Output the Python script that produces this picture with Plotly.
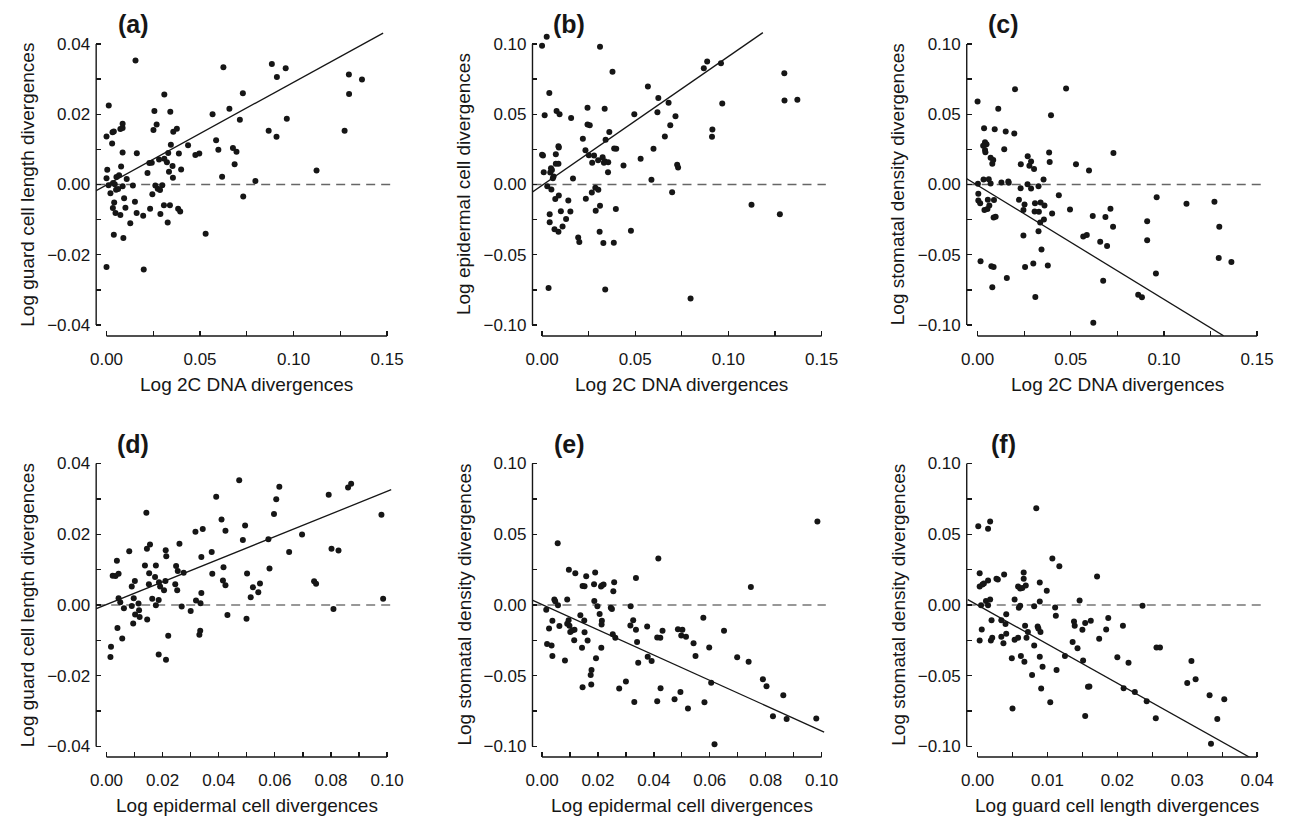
import plotly.graph_objects as go

W, H = 1297, 820

# ---------------- data ----------------
# (a) guard cell length vs 2C DNA
a_x = [0.0155, 0.0625, 0.0884, 0.0958, 0.0911, 0.1296, 0.1366, 0.1297, 0.1273, 0.0309,
       0.0729, 0.0012, 0.0256, 0.0341, 0.0657, 0.0567, 0.0268, 0.0713, 0.0964, 0.0000,
       0.0032, 0.0039, 0.0074, 0.0086, 0.0086, 0.0251, 0.0357, 0.0376, 0.0867, 0.0909,
       0.0030, 0.0586, 0.0344, 0.0436, 0.0598, 0.0676, 0.0695, 0.0086, 0.0162, 0.0330,
       0.0387, 0.0475, 0.0496, 0.0281, 0.0309, 0.0323, 0.0229, 0.0242, 0.0685, 0.0353,
       0.0078, 0.0004, 0.0334, 0.0399, 0.1123, 0.0219, 0.0000, 0.0053, 0.0067, 0.0108,
       0.0355, 0.0618, 0.0796, 0.0011, 0.0035, 0.0044, 0.0086, 0.0141, 0.0261, 0.0298,
       0.0021, 0.0051, 0.0062, 0.0274, 0.0286, 0.0731, 0.0245, 0.0094, 0.0041, 0.0034,
       0.0101, 0.0152, 0.0307, 0.0339, 0.0383, 0.0394, 0.0233, 0.0048, 0.0074, 0.0161,
       0.0196, 0.0288, 0.0127, 0.0327, 0.0039, 0.0090, 0.0530, 0.0000, 0.0199]
a_y = [0.0353, 0.0334, 0.0343, 0.0331, 0.0306, 0.0313, 0.0299, 0.0258, 0.0153, 0.0256,
       0.0260, 0.0225, 0.0209, 0.0207, 0.0216, 0.0200, 0.0171, 0.0184, 0.0187, 0.0137,
       0.0149, 0.0151, 0.0158, 0.0173, 0.0161, 0.0155, 0.0150, 0.0159, 0.0153, 0.0136,
       0.0117, 0.0126, 0.0113, 0.0112, 0.0099, 0.0104, 0.0093, 0.0091, 0.0089, 0.0090,
       0.0088, 0.0084, 0.0088, 0.0071, 0.0073, 0.0063, 0.0061, 0.0062, 0.0058, 0.0053,
       0.0051, 0.0042, 0.0036, 0.0043, 0.0040, 0.0033, 0.0018, 0.0021, 0.0026, 0.0016,
       0.0019, 0.0022, 0.0010, -0.0002, 0.0004, 0.0001, -0.0005, -0.0003, -0.0003, -0.0002,
       -0.0025, -0.0015, -0.0013, -0.0012, -0.0016, -0.0034, -0.0028, -0.0039, -0.0051, -0.0067,
       -0.0066, -0.0049, -0.0059, -0.0059, -0.0069, -0.0077, -0.0069, -0.0081, -0.0087, -0.0081,
       -0.0089, -0.0084, -0.0110, -0.0108, -0.0143, -0.0152, -0.0140, -0.0235, -0.0242]
a_fit_x = [-0.0058, 0.1479]
a_fit_y = [-0.0018, 0.0431]

# (b) epidermal cell vs 2C DNA
b_x = [0.0000, 0.0025, 0.0311, 0.0378, 0.0039, 0.0568, 0.0014, 0.0078, 0.0094, 0.0156,
       0.0244, 0.0244, 0.0256, 0.0336, 0.0495, 0.0624, 0.0619, 0.0679, 0.0716, 0.0688,
       0.0868, 0.0886, 0.0960, 0.0967, 0.0914, 0.0912, 0.1300, 0.1301, 0.1370, 0.0219,
       0.0361, 0.0341, 0.0659, 0.0598, 0.0387, 0.0398, 0.0233, 0.0088, 0.0090, 0.0000,
       0.0005, 0.0074, 0.0251, 0.0279, 0.0301, 0.0325, 0.0336, 0.0355, 0.0332, 0.0269,
       0.0529, 0.0725, 0.0730, 0.0437, 0.0074, 0.0088, 0.0009, 0.0354, 0.0048, 0.0053,
       0.0044, 0.0062, 0.0058, 0.0166, 0.0587, 0.0028, 0.0050, 0.0286, 0.0302, 0.0267,
       0.0698, 0.0090, 0.0071, 0.0141, 0.0235, 0.1124, 0.0311, 0.0396, 0.0101, 0.0152,
       0.0288, 0.0041, 0.1276, 0.0129, 0.0041, 0.0067, 0.0110, 0.0088, 0.0309, 0.0477,
       0.0194, 0.0200, 0.0329, 0.0385, 0.0035, 0.0339, 0.0797]
b_y = [0.0988, 0.1052, 0.0981, 0.0803, 0.0652, 0.0697, 0.0493, 0.0524, 0.0500, 0.0474,
       0.0547, 0.0427, 0.0422, 0.0540, 0.0500, 0.0616, 0.0514, 0.0581, 0.0486, 0.0422,
       0.0827, 0.0875, 0.0863, 0.0576, 0.0391, 0.0339, 0.0792, 0.0597, 0.0604, 0.0325,
       0.0374, 0.0318, 0.0341, 0.0254, 0.0256, 0.0254, 0.0244, 0.0273, 0.0263, 0.0211,
       0.0206, 0.0216, 0.0209, 0.0206, 0.0173, 0.0194, 0.0166, 0.0159, 0.0154, 0.0154,
       0.0184, 0.0140, 0.0121, 0.0135, 0.0147, 0.0147, 0.0088, 0.0088, 0.0116, 0.0104,
       0.0085, 0.0057, 0.0045, 0.0043, 0.0033, -0.0012, -0.0036, -0.0024, -0.0038, -0.0057,
       -0.0055, -0.0078, -0.0104, -0.0114, -0.0102, -0.0145, -0.0152, -0.0175, -0.0190, -0.0192,
       -0.0187, -0.0211, -0.0211, -0.0246, -0.0268, -0.0318, -0.0299, -0.0337, -0.0337, -0.0329,
       -0.0377, -0.0410, -0.0417, -0.0415, -0.0737, -0.0747, -0.0812]
b_fit_x = [-0.0053, 0.1185]
b_fit_y = [-0.0055, 0.1081]

# (c) stomatal density vs 2C DNA
c_x = [0.0000, 0.0201, 0.0475, 0.0111, 0.0394, 0.0035, 0.0092, 0.0151, 0.0197, 0.0040,
       0.0048, 0.0030, 0.0040, 0.0042, 0.0143, 0.0384, 0.0387, 0.0729, 0.0070, 0.0084,
       0.0079, 0.0232, 0.0269, 0.0287, 0.0278, 0.0303, 0.0528, 0.0598, 0.0002, 0.0032,
       0.0060, 0.0070, 0.0128, 0.0165, 0.0167, 0.0354, 0.0268, 0.0287, 0.0327, 0.0231,
       0.0004, 0.0004, 0.0014, 0.0055, 0.0088, 0.0222, 0.0436, 0.0308, 0.0338, 0.0359,
       0.0252, 0.0063, 0.0037, 0.0053, 0.0306, 0.0329, 0.0246, 0.0400, 0.0496, 0.0618,
       0.0686, 0.0713, 0.0961, 0.1121, 0.1271, 0.0086, 0.0097, 0.0356, 0.0336, 0.1297,
       0.0727, 0.0910, 0.0327, 0.0246, 0.0567, 0.0586, 0.0658, 0.0695, 0.0910, 0.0343,
       0.1294, 0.1362, 0.0016, 0.0074, 0.0086, 0.0255, 0.0299, 0.0377, 0.0157, 0.0674,
       0.0957, 0.0079, 0.0862, 0.0882, 0.0310, 0.0621]
c_y = [0.0590, 0.0678, 0.0683, 0.0540, 0.0493, 0.0401, 0.0393, 0.0377, 0.0363, 0.0301,
       0.0287, 0.0275, 0.0246, 0.0230, 0.0251, 0.0228, 0.0161, 0.0225, 0.0190, 0.0175,
       0.0147, 0.0145, 0.0201, 0.0164, 0.0133, 0.0111, 0.0145, 0.0100, 0.0005, 0.0036,
       0.0038, 0.0007, 0.0014, 0.0021, 0.0012, 0.0036, 0.0002, -0.0028, -0.0012, -0.0026,
       -0.0066, -0.0114, -0.0133, -0.0109, -0.0111, -0.0109, -0.0076, -0.0133, -0.0128, -0.0149,
       -0.0142, -0.0149, -0.0182, -0.0175, -0.0192, -0.0194, -0.0182, -0.0206, -0.0178, -0.0225,
       -0.0232, -0.0173, -0.0090, -0.0137, -0.0123, -0.0235, -0.0230, -0.0249, -0.0270, -0.0301,
       -0.0301, -0.0261, -0.0332, -0.0363, -0.0370, -0.0360, -0.0408, -0.0438, -0.0396, -0.0462,
       -0.0524, -0.0552, -0.0547, -0.0581, -0.0588, -0.0588, -0.0562, -0.0576, -0.0666, -0.0685,
       -0.0633, -0.0732, -0.0784, -0.0803, -0.0801, -0.0984]
c_fit_x = [-0.0062, 0.1320]
c_fit_y = [0.0045, -0.1077]

# (d) guard cell length vs epidermal cell
d_x = [0.0473, 0.0391, 0.0616, 0.0605, 0.0597, 0.0792, 0.0861, 0.0872, 0.0980, 0.0142,
       0.0317, 0.0343, 0.0410, 0.0424, 0.0494, 0.0486, 0.0577, 0.0697, 0.0651, 0.0802,
       0.0827, 0.0081, 0.0260, 0.0155, 0.0144, 0.0211, 0.0213, 0.0375, 0.0338, 0.0037,
       0.0137, 0.0176, 0.0248, 0.0417, 0.0581, 0.0022, 0.0032, 0.0043, 0.0152, 0.0254,
       0.0275, 0.0377, 0.0501, 0.0101, 0.0173, 0.0090, 0.0151, 0.0187, 0.0210, 0.0245,
       0.0415, 0.0424, 0.0740, 0.0747, 0.0547, 0.0191, 0.0205, 0.0252, 0.0338, 0.0522,
       0.0541, 0.0097, 0.0163, 0.0186, 0.0319, 0.0514, 0.0043, 0.0049, 0.0062, 0.0090,
       0.0114, 0.0176, 0.0268, 0.0335, 0.0986, 0.0809, 0.0116, 0.0300, 0.0102, 0.0118,
       0.0431, 0.0095, 0.0145, 0.0499, 0.0039, 0.0056, 0.0220, 0.0334, 0.0331, 0.0016,
       0.0014, 0.0186, 0.0212]
d_y = [0.0353, 0.0306, 0.0334, 0.0299, 0.0257, 0.0312, 0.0332, 0.0343, 0.0255, 0.0261,
       0.0207, 0.0215, 0.0242, 0.0210, 0.0225, 0.0184, 0.0186, 0.0199, 0.0150, 0.0159,
       0.0154, 0.0152, 0.0173, 0.0171, 0.0159, 0.0155, 0.0138, 0.0150, 0.0136, 0.0125,
       0.0112, 0.0112, 0.0110, 0.0107, 0.0103, 0.0083, 0.0082, 0.0088, 0.0090, 0.0096,
       0.0091, 0.0088, 0.0089, 0.0068, 0.0079, 0.0052, 0.0059, 0.0064, 0.0068, 0.0059,
       0.0069, 0.0056, 0.0067, 0.0060, 0.0061, 0.0052, 0.0042, 0.0042, 0.0034, 0.0050,
       0.0036, 0.0019, 0.0018, 0.0014, 0.0013, 0.0022, 0.0019, 0.0008, -0.0009, -0.0003,
       0.0004, -0.0001, -0.0004, 0.0005, 0.0018, -0.0011, -0.0015, -0.0017, -0.0027, -0.0034,
       -0.0028, -0.0052, -0.0041, -0.0039, -0.0065, -0.0095, -0.0087, -0.0073, -0.0084, -0.0118,
       -0.0147, -0.0140, -0.0155]
d_fit_x = [-0.0039, 0.1015]
d_fit_y = [-0.0011, 0.0326]

# (e) stomatal density vs epidermal cell
e_x = [0.0985, 0.0056, 0.0416, 0.0747, 0.0096, 0.0119, 0.0158, 0.0190, 0.0336, 0.0145,
       0.0152, 0.0186, 0.0211, 0.0220, 0.0214, 0.0258, 0.0255, 0.0044, 0.0047, 0.0090,
       0.0187, 0.0057, 0.0198, 0.0246, 0.0250, 0.0317, 0.0015, 0.0137, 0.0206, 0.0037,
       0.0095, 0.0151, 0.0214, 0.0326, 0.0577, 0.0090, 0.0098, 0.0213, 0.0025, 0.0062,
       0.0316, 0.0336, 0.0376, 0.0101, 0.0116, 0.0108, 0.0152, 0.0253, 0.0262, 0.0412,
       0.0423, 0.0431, 0.0486, 0.0502, 0.0498, 0.0515, 0.0651, 0.0115, 0.0163, 0.0340,
       0.0542, 0.0018, 0.0034, 0.0143, 0.0212, 0.0598, 0.0037, 0.0193, 0.0378, 0.0392,
       0.0344, 0.0549, 0.0082, 0.0698, 0.0739, 0.0177, 0.0174, 0.0605, 0.0790, 0.0803,
       0.0300, 0.0145, 0.0176, 0.0276, 0.0424, 0.0495, 0.0863, 0.0330, 0.0412, 0.0474,
       0.0522, 0.0581, 0.0826, 0.0875, 0.0981, 0.0617]
e_y = [0.0590, 0.0436, 0.0329, 0.0128, 0.0249, 0.0225, 0.0204, 0.0230, 0.0190, 0.0135,
       0.0133, 0.0147, 0.0130, 0.0145, 0.0137, 0.0161, 0.0097, 0.0038, 0.0026, 0.0038,
       0.0028, -0.0002, -0.0009, -0.0019, -0.0028, -0.0009, -0.0033, -0.0073, -0.0064, -0.0111,
       -0.0107, -0.0109, -0.0111, -0.0107, -0.0090, -0.0133, -0.0147, -0.0137, -0.0166, -0.0149,
       -0.0145, -0.0175, -0.0152, -0.0190, -0.0175, -0.0180, -0.0192, -0.0206, -0.0232, -0.0230,
       -0.0232, -0.0182, -0.0171, -0.0175, -0.0216, -0.0225, -0.0182, -0.0249, -0.0251, -0.0261,
       -0.0270, -0.0275, -0.0287, -0.0303, -0.0303, -0.0301, -0.0360, -0.0377, -0.0365, -0.0396,
       -0.0408, -0.0360, -0.0393, -0.0370, -0.0401, -0.0460, -0.0495, -0.0550, -0.0524, -0.0574,
       -0.0540, -0.0581, -0.0562, -0.0590, -0.0588, -0.0614, -0.0638, -0.0685, -0.0680, -0.0666,
       -0.0732, -0.0687, -0.0787, -0.0806, -0.0803, -0.0984]
e_fit_x = [-0.0033, 0.1009]
e_fit_y = [0.0033, -0.0898]

# (f) stomatal density vs guard cell length
f_x = [0.0084, 0.0001, 0.0015, 0.0018, 0.0107, 0.0117, 0.0171, 0.0003, 0.0003, 0.0007,
       0.0009, 0.0015, 0.0027, 0.0029, 0.0038, 0.0066, 0.0058, 0.0061, 0.0064, 0.0069,
       0.0066, 0.0089, 0.0099, 0.0089, 0.0053, 0.0012, 0.0018, 0.0005, 0.0015, 0.0059,
       0.0061, 0.0081, 0.0111, 0.0146, 0.0236, 0.0112, 0.0041, 0.0020, 0.0034, 0.0040,
       0.0006, 0.0041, 0.0068, 0.0072, 0.0086, 0.0087, 0.0090, 0.0138, 0.0139, 0.0150,
       0.0154, 0.0162, 0.0187, 0.0184, 0.0208, 0.0003, 0.0019, 0.0021, 0.0034, 0.0037,
       0.0053, 0.0058, 0.0070, 0.0136, 0.0143, 0.0174, 0.0256, 0.0261, 0.0081, 0.0049,
       0.0062, 0.0067, 0.0089, 0.0093, 0.0113, 0.0125, 0.0151, 0.0200, 0.0216, 0.0078,
       0.0091, 0.0050, 0.0104, 0.0154, 0.0158, 0.0160, 0.0209, 0.0225, 0.0242, 0.0255,
       0.0306, 0.0312, 0.0300, 0.0332, 0.0343, 0.0353, 0.0334]
f_y = [0.0683, 0.0557, 0.0538, 0.0590, 0.0329, 0.0273, 0.0201, 0.0225, 0.0130, 0.0145,
       0.0152, 0.0173, 0.0185, 0.0180, 0.0216, 0.0230, 0.0130, 0.0116, 0.0121, 0.0137,
       0.0185, 0.0159, 0.0100, 0.0024, 0.0038, 0.0028, 0.0038, -0.0002, -0.0002, -0.0019,
       -0.0005, -0.0009, -0.0017, 0.0031, -0.0005, -0.0076, -0.0066, -0.0107, -0.0107, -0.0135,
       -0.0173, -0.0204, -0.0147, -0.0190, -0.0152, -0.0166, -0.0190, -0.0116, -0.0147, -0.0175,
       -0.0128, -0.0111, -0.0092, -0.0173, -0.0147, -0.0251, -0.0251, -0.0232, -0.0225, -0.0270,
       -0.0246, -0.0232, -0.0232, -0.0261, -0.0306, -0.0239, -0.0301, -0.0301, -0.0287, -0.0377,
       -0.0360, -0.0401, -0.0365, -0.0436, -0.0460, -0.0360, -0.0393, -0.0370, -0.0408, -0.0495,
       -0.0590, -0.0732, -0.0687, -0.0784, -0.0578, -0.0576, -0.0588, -0.0614, -0.0680, -0.0801,
       -0.0396, -0.0524, -0.0552, -0.0638, -0.0806, -0.0666, -0.0981]
f_fit_x = [-0.0014, 0.0390]
f_fit_y = [0.0038, -0.1078]

# labels
panel_labels = ["(a)", "(b)", "(c)", "(d)", "(e)", "(f)"]
x_titles = ["Log 2C DNA divergences", "Log 2C DNA divergences", "Log 2C DNA divergences",
            "Log epidermal cell divergences", "Log epidermal cell divergences",
            "Log guard cell length divergences"]
y_titles = ["Log guard cell length divergences", "Log epidermal cell divergences",
            "Log stomatal density divergences", "Log guard cell length divergences",
            "Log stomatal density divergences", "Log stomatal density divergences"]
# axis tick settings: (max tick, label step, minor step)
x_ticks = [(0.15, 0.05, 0.025)] * 3 + [(0.10, 0.02, 0.01)] * 2 + [(0.04, 0.01, 0.005)]
y_ticks = [(0.04, 0.02, 0.01), (0.10, 0.05, 0.025), (0.10, 0.05, 0.025),
           (0.04, 0.02, 0.01), (0.10, 0.05, 0.025), (0.10, 0.05, 0.025)]

xs = [a_x, b_x, c_x, d_x, e_x, f_x]
ys = [a_y, b_y, c_y, d_y, e_y, f_y]
fxs = [a_fit_x, b_fit_x, c_fit_x, d_fit_x, e_fit_x, f_fit_x]
fys = [a_fit_y, b_fit_y, c_fit_y, d_fit_y, e_fit_y, f_fit_y]

# ---------------- layout geometry (pixels) ----------------
# columns: plot left, pixel of x=0, pixel of max tick, plot right
cols = [(90.5, 101.0, 385.7, 390.5), (533.3, 543.0, 826.7, 831.0), (974.0, 985.0, 1268.7, 1273.0)]
# rows: plot top, pixel of top tick, pixel of bottom tick, plot bottom
rows = [(32.0, 44.0, 325.0, 336.0), (452.0, 463.5, 746.5, 757.0)]

FONT = "Liberation Sans, Arial, Helvetica, sans-serif"
INK = "#161616"

fig = go.Figure()
layout = dict(width=W, height=H, margin=dict(l=0, r=0, t=0, b=0),
              paper_bgcolor="white", plot_bgcolor="white", showlegend=False)
shapes, annotations = [], []

for i in range(6):
    r, c = divmod(i, 3)
    L, px0, pxm, R = cols[c]
    T, pyt, pyb, B = rows[r]
    xmax, xstep, xminor = x_ticks[i]
    ymax, ystep, yminor = y_ticks[i]
    sx = (pxm - px0) / xmax
    xr = [(L - px0) / sx, (R - px0) / sx]
    sy = (pyb - pyt) / (2 * ymax)
    pz = (pyt + pyb) / 2
    yr = [(pz - B) / sy, (pz - T) / sy]
    n = "" if i == 0 else str(i + 1)
    xa, ya = "x" + n, "y" + n

    fig.add_trace(go.Scatter(x=fxs[i], y=fys[i], mode="lines",
                             line=dict(color=INK, width=1.3),
                             xaxis=xa, yaxis=ya, hoverinfo="skip"))
    fig.add_trace(go.Scatter(x=xs[i], y=ys[i], mode="markers",
                             marker=dict(size=6, color=INK, line=dict(width=0)),
                             xaxis=xa, yaxis=ya, hoverinfo="skip"))

    tick_common = dict(showgrid=False, zeroline=False, showline=False,
                       ticks="inside", ticklen=5, tickwidth=1.3, tickcolor=INK,
                       tickmode="linear", tick0=0, tickformat=".2f",
                       tickfont=dict(family=FONT, size=17, color=INK), fixedrange=True)
    layout["xaxis" + n] = dict(domain=[L / W, R / W], range=xr, anchor=ya,
                               dtick=xstep, ticklabelstandoff=11,
                               minor=dict(ticks="inside", ticklen=5, tickwidth=1.3,
                                          tickcolor=INK, tick0=0, dtick=xminor, showgrid=False),
                               **tick_common)
    layout["yaxis" + n] = dict(domain=[1 - B / H, 1 - T / H], range=yr, anchor=xa,
                               dtick=ystep, ticklabelstandoff=5,
                               minor=dict(ticks="inside", ticklen=5, tickwidth=1.3,
                                          tickcolor=INK, tick0=0, dtick=yminor, showgrid=False),
                               **tick_common)

    # dashed zero reference line
    shapes.append(dict(type="line", xref=xa + " domain", yref=ya, x0=0, x1=1, y0=0, y1=0,
                       line=dict(color="#666666" if r == 0 else "#333333",
                                 width=1.4 if r == 0 else 1.1, dash="9px,6px"),
                       layer="below"))
    # detached axis lines
    shapes.append(dict(type="line", xref=xa, yref=ya + " domain", x0=0, x1=xmax, y0=0, y1=0,
                       line=dict(color=INK, width=1.4)))
    shapes.append(dict(type="line", xref=xa + " domain", yref=ya, x0=0, x1=0, y0=-ymax, y1=ymax,
                       line=dict(color=INK, width=1.4)))

    # panel label
    annotations.append(dict(text="<b>" + panel_labels[i] + "</b>", xref="paper", yref="paper",
                            x=(L + 37.5) / W, y=1 - (T - 8.5) / H, xanchor="center", yanchor="middle",
                            showarrow=False, font=dict(family=FONT, size=25, color=INK)))
    # axis titles
    annotations.append(dict(text=x_titles[i], xref="paper", yref="paper",
                            x=(px0 + pxm) / 2 / W, y=1 - (B + 48) / H, xanchor="center", yanchor="middle",
                            showarrow=False, font=dict(family=FONT, size=19, color=INK)))
    annotations.append(dict(text=y_titles[i], xref="paper", yref="paper", textangle=-90,
                            x=(L - 70) / W, y=1 - pz / H, xanchor="center", yanchor="middle",
                            showarrow=False, font=dict(family=FONT, size=19, color=INK)))

layout["shapes"] = shapes
layout["annotations"] = annotations
fig.update_layout(**layout)
fig.write_html("out.html", config={"displayModeBar": False, "staticPlot": True},
               post_script="document.body.style.margin='0';document.body.style.overflow='hidden';")
